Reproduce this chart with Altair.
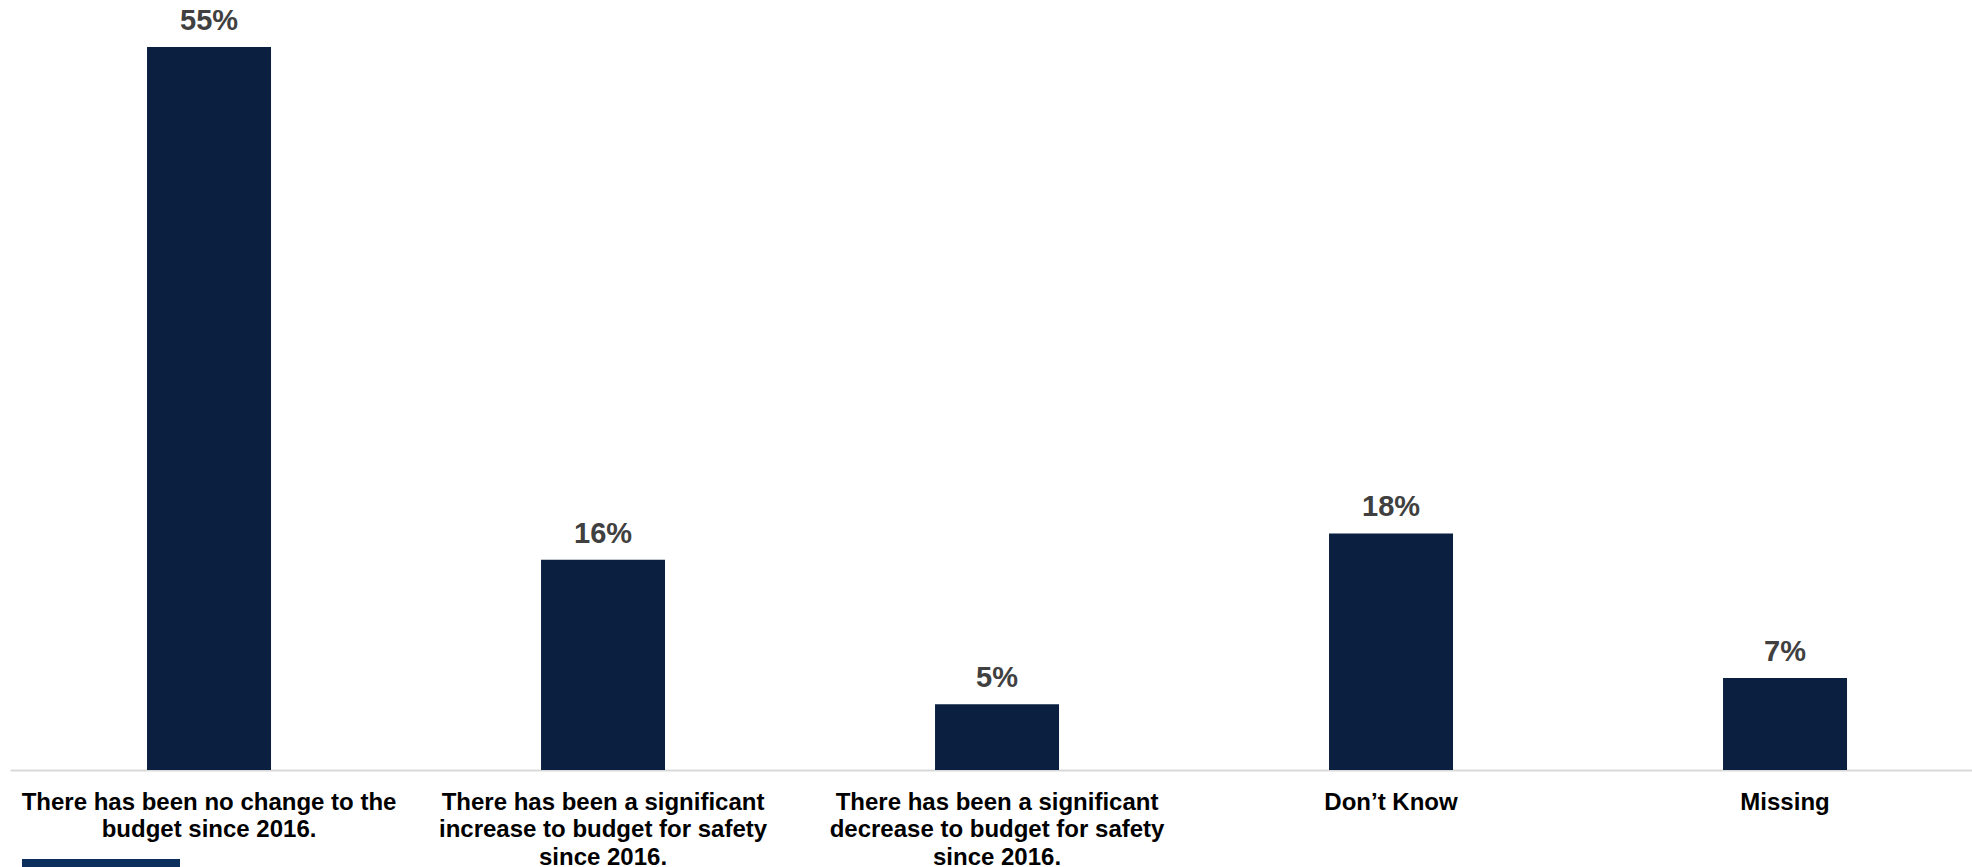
import altair as alt
import pandas as pd

categories = [
    "There has been no change to the\nbudget since 2016.",
    "There has been a significant\nincrease to budget for safety\nsince 2016.",
    "There has been a significant\ndecrease to budget for safety\nsince 2016.",
    "Don\u2019t  Know",
    "Missing",
]
values = [55, 16, 5, 18, 7]
labels = ["55%", "16%", "5%", "18%", "7%"]

df = pd.DataFrame({"category": categories, "value": values, "label": labels})

BAR = "#0b1f40"

x_enc = alt.X(
    "category:N",
    sort=categories,
    scale=alt.Scale(paddingInner=0.6853, paddingOuter=0.3325, align=0.523),
    axis=alt.Axis(
        title=None,
        ticks=False,
        tickSize=0,
        domain=True,
        domainColor="#d9d9d9",
        domainWidth=2,
        labelAngle=0,
        labelAlign="center",
        labelBaseline="top",
        labelPadding=20,
        labelFont="Liberation Sans",
        labelFontWeight="bold",
        labelFontSize=24,
        labelLineHeight=27.5,
        labelColor="#000000",
        labelLimit=0,
        labelOverlap=False,
        labelExpr="split(datum.label, '\\n')",
    ),
)
y_enc = alt.Y(
    "value:Q",
    scale=alt.Scale(domain=[0, 58.58], nice=False, zero=True),
    axis=None,
)

base = alt.Chart(df)

bars = base.mark_bar(color=BAR).encode(x=x_enc, y=y_enc)

text = base.mark_text(
    font="Liberation Sans",
    fontWeight="bold",
    fontSize=29,
    color="#404040",
    baseline="alphabetic",
    align="center",
    dy=-17,
).encode(x=alt.X("category:N", sort=categories), y="value:Q", text="label:N")

swatch = alt.Chart(alt.Data(values=[{"a": 1}])).mark_rect(
    color="#0d2f5e", clip=False
).encode(
    x=alt.value(12), x2=alt.value(170), y=alt.value(859), y2=alt.value(885)
)

chart = (
    alt.layer(bars, text, swatch)
    .properties(
        width=1962,
        height=770,
        autosize=alt.AutoSizeParams(type="none"),
        padding={"left": 10, "top": 0, "right": 0, "bottom": 97},
        background="white",
    )
    .configure_view(stroke=None)
)

chart.save("out.html", embed_options={"renderer": "svg", "actions": False})
